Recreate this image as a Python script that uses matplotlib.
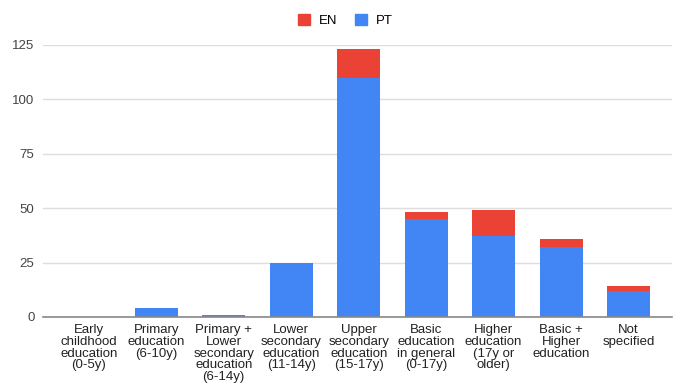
import matplotlib.pyplot as plt
from matplotlib.patches import Patch

plt.rcParams["font.family"] = ["Liberation Sans", "DejaVu Sans"]

categories = [
    "Early\nchildhood\neducation\n(0-5y)",
    "Primary\neducation\n(6-10y)",
    "Primary +\nLower\nsecondary\neducation\n(6-14y)",
    "Lower\nsecondary\neducation\n(11-14y)",
    "Upper\nsecondary\neducation\n(15-17y)",
    "Basic\neducation\nin general\n(0-17y)",
    "Higher\neducation\n(17y or\nolder)",
    "Basic +\nHigher\neducation",
    "Not\nspecified",
]
pt_values = [0, 4, 1, 25, 110, 45, 37, 32, 12]
en_values = [0, 0, 0, 0, 13, 3, 12, 4, 2]
y_ticks = [0, 25, 50, 75, 100, 125]

RED = "#ea4335"
BLUE = "#4285f4"

fig = plt.figure(figsize=(6.8, 3.87), dpi=100)
ax = fig.add_axes([0.063, 0.181, 0.925, 0.703])

x = range(len(categories))
ax.bar(x, pt_values, width=0.64, color=BLUE, zorder=3)
ax.bar(x, en_values, width=0.64, bottom=pt_values, color=RED, zorder=3)

ax.set_xlim(-0.68, 8.64)
ax.set_ylim(0, 125)
ax.set_yticks(y_ticks)
ax.set_xticks(list(x))
ax.set_xticklabels(categories, fontsize=9.5, color="#222222", linespacing=0.98)
ax.tick_params(axis="y", labelsize=9.5, labelcolor="#444444", length=0, pad=6)
ax.tick_params(axis="x", length=0, pad=5)

ax.grid(axis="y", color="#dddddd", linewidth=1, zorder=0)
for side in ["top", "right", "left"]:
    ax.spines[side].set_visible(False)
ax.spines["bottom"].set_color("#888888")
ax.spines["bottom"].set_linewidth(1.2)
ax.spines["bottom"].set_zorder(4)

handles = [Patch(color=RED, label="EN"), Patch(color=BLUE, label="PT")]
fig.legend(handles=handles, loc="center", bbox_to_anchor=(0.508, 0.948), ncol=2,
           frameon=False, fontsize=9.5, handlelength=0.9, handleheight=0.9,
           columnspacing=1.3, handletextpad=0.7)

fig.savefig("out.png", dpi=100)
